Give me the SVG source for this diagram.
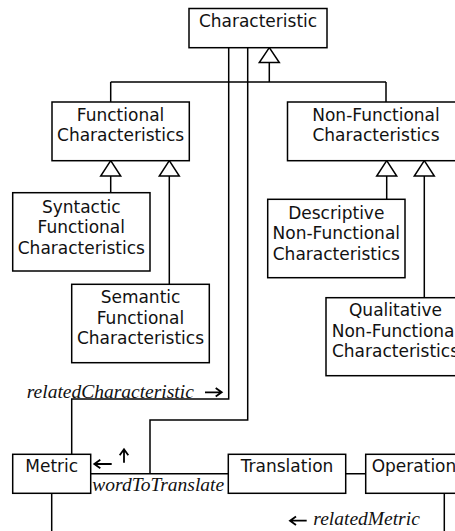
<svg xmlns="http://www.w3.org/2000/svg" width="455" height="531" viewBox="0 0 455 531">
<style>
.box{fill:#fff;stroke:#000;stroke-width:1.5}
.t{font-family:"DejaVu Sans",Verdana,sans-serif;font-size:17px;text-anchor:middle;fill:#111}
.r{font-family:"Liberation Serif","Times New Roman",serif;font-size:19.5px;font-style:italic;fill:#111}
.ln{fill:none;stroke:#000;stroke-width:1.5}
.tri{fill:#fff;stroke:#000;stroke-width:1.5;stroke-linejoin:miter}
.ar{fill:none;stroke:#000;stroke-width:1.8}
</style>
<rect width="455" height="531" fill="#fff"/>
<g id="connectors">
<path class="ln" d="M269.3,62.5V82M110.7,82H386M110.7,82V102M386,82V102"/>
<path class="ln" d="M110.7,176V192.7M169.3,176V284.3M386.7,176V199.3M424.3,176V297.7"/>
<path class="ln" d="M228.7,47.7V399H71.7V454.3"/>
<path class="ln" d="M247.7,47.7V420H150V473.7"/>
<path class="ln" d="M90.7,473.7H228.3M345.7,473.7H365.7"/>
<path class="ln" d="M51.7,493.3V531M444.3,493.3V531"/>
<polygon class="tri" points="269.3,47.7 259.3,62.5 279.3,62.5"/>
<polygon class="tri" points="110.7,160.7 100.7,176 120.7,176"/>
<polygon class="tri" points="169.3,160.7 159.3,176 179.3,176"/>
<polygon class="tri" points="386.7,160.7 376.7,176 396.7,176"/>
<polygon class="tri" points="424.3,160.7 414.3,176 434.3,176"/>
<path class="ar" d="M205,392.3H221.7M215.7,388L221.7,392.3L215.7,396.6"/>
<path class="ar" d="M94.3,464H111.7M100.3,459.7L94.3,464L100.3,468.3"/>
<path class="ar" d="M124,462.7V449.3M119.7,455.3L124,449.3L128.3,455.3"/>
<path class="ar" d="M290,520.7H306.7M296,516.4L290,520.7L296,525"/>
<text class="r" x="26.7" y="397.5">relatedCharacteristic</text>
<text class="r" x="92.3" y="490.7">wordToTranslate</text>
<text class="r" x="313.3" y="525">relatedMetric</text>
</g>
<g id="characteristic"><rect class="box" x="189" y="8.5" width="138" height="39.2"/><text class="t" x="258" y="27">Characteristic</text></g>
<g id="functional"><rect class="box" x="52" y="102" width="137.3" height="58.7"/><text class="t" x="120.6" y="120.7">Functional</text><text class="t" x="120.6" y="141.2">Characteristics</text></g>
<g id="nonfunctional"><rect class="box" x="287.5" y="102" width="177" height="58.7"/><text class="t" x="376" y="120.7">Non-Functional</text><text class="t" x="376" y="141.2">Characteristics</text></g>
<g id="syntactic"><rect class="box" x="12.7" y="192.7" width="137.3" height="78.3"/><text class="t" x="81.3" y="212.7">Syntactic</text><text class="t" x="81.3" y="233.2">Functional</text><text class="t" x="81.3" y="253.7">Characteristics</text></g>
<g id="semantic"><rect class="box" x="71.7" y="284.3" width="137.6" height="78.4"/><text class="t" x="140.5" y="303">Semantic</text><text class="t" x="140.5" y="323.5">Functional</text><text class="t" x="140.5" y="344">Characteristics</text></g>
<g id="descriptive"><rect class="box" x="267.7" y="199.3" width="137.3" height="78.4"/><text class="t" x="336.3" y="218.5">Descriptive</text><text class="t" x="336.3" y="239">Non-Functional</text><text class="t" x="336.3" y="259.5">Characteristics</text></g>
<g id="qualitative"><rect class="box" x="326" y="297.7" width="139" height="78"/><text class="t" x="395.5" y="316">Qualitative</text><text class="t" x="395.5" y="336.5">Non-Functional</text><text class="t" x="395.5" y="357">Characteristics</text></g>
<g id="metric"><rect class="box" x="12.7" y="454.3" width="78" height="39"/><text class="t" x="51.7" y="472.3">Metric</text></g>
<g id="translation"><rect class="box" x="228.3" y="454.3" width="117.4" height="39"/><text class="t" x="287" y="472.3">Translation</text></g>
<g id="operation"><rect class="box" x="365.7" y="454.3" width="97" height="39"/><text class="t" x="414" y="472.3">Operation</text></g>
</svg>
